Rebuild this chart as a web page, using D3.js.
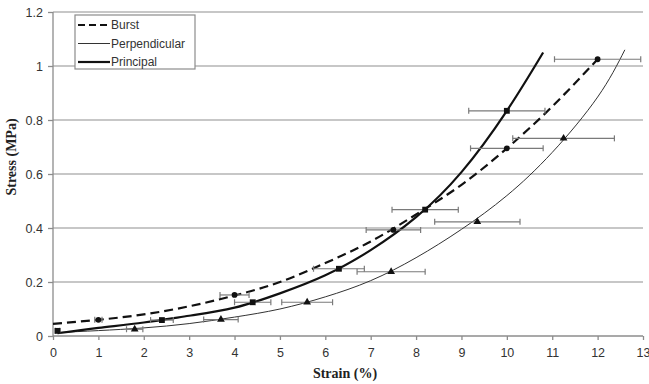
<!DOCTYPE html>
<html>
<head>
<meta charset="utf-8" />
<style>
body {
	margin: 0;
	background: white;
	font-family: "Liberation Sans", Arial, Helvetica;
}
svg {
	display: block;
}
.grid line {
	stroke: #b4b4b4;
	stroke-width: 1.3;
}
.axis path, .axis line {
	stroke: #8c8c8c;
	stroke-width: 1.3;
}
.axis text {
	font-size: 12.5px;
	fill: #333;
	font-family: "Liberation Sans", Arial;
}
.axis-title {
	font-family: "Liberation Serif", "Times New Roman", serif;
	font-weight: bold;
	font-size: 14px;
	fill: #222;
}
.err {
	stroke: #7a7a7a;
	stroke-width: 1.2;
}
.legend-box {
	fill: white;
	stroke: #8c8c8c;
	stroke-width: 1.2;
}
.legend-label {
	font-size: 12px;
	fill: #333;
}
</style>
</head>
<body>
<script src="https://cdn.jsdelivr.net/npm/d3@7"></script>
<script>
// tick labels
var xTicks = [0, 1, 2, 3, 4, 5, 6, 7, 8, 9, 10, 11, 12, 13];
var yTicks = [0, 0.2, 0.4, 0.6, 0.8, 1, 1.2];

// measured points (strain %, stress MPa, horizontal error)
var burstX = [1, 4, 7.5, 10, 12];
var burstY = [0.06, 0.152, 0.393, 0.695, 1.025];
var burstErr = [0.08, 0.32, 0.6, 0.8, 0.95];

var principalX = [0.1, 2.4, 4.4, 6.3, 8.2, 10];
var principalY = [0.019, 0.059, 0.125, 0.249, 0.468, 0.834];
var principalErr = [0.05, 0.25, 0.4, 0.56, 0.73, 0.84];

var perpX = [1.8, 3.7, 5.6, 7.45, 9.35, 11.25];
var perpY = [0.025, 0.061, 0.125, 0.238, 0.423, 0.732];
var perpErr = [0.18, 0.38, 0.56, 0.75, 0.94, 1.12];

// trend curves
var burstCurveX = [0, 1, 2, 3, 4, 5, 6, 7, 8, 9, 10, 11, 12];
var burstCurveY = [0.045, 0.06, 0.08, 0.11, 0.15, 0.2, 0.27, 0.35, 0.45, 0.56, 0.695, 0.85, 1.025];

var principalCurveX = [0.1, 1, 2, 3, 4, 5, 6, 7, 8, 9, 10, 10.8];
var principalCurveY = [0.01, 0.03, 0.05, 0.075, 0.105, 0.158, 0.225, 0.318, 0.44, 0.607, 0.834, 1.05];

var perpCurveX = [0.1, 1, 2, 3, 4, 5, 6, 7, 8, 9, 10, 11, 12, 12.6];
var perpCurveY = [0.013, 0.02, 0.03, 0.046, 0.07, 0.1, 0.145, 0.205, 0.29, 0.395, 0.52, 0.68, 0.885, 1.06];

var width = 649,
    height = 384;

var x = d3.scaleLinear().domain([0, 13]).range([53, 643]);
var y = d3.scaleLinear().domain([0, 1.2]).range([336, 12]);

var svg = d3.select("body").append("svg")
	.attr("width", width)
	.attr("height", height);

// horizontal gridlines
svg.append("g")
	.attr("class", "grid")
	.selectAll("line")
	.data(yTicks.slice(1))
	.enter().append("line")
		.attr("x1", x(0))
		.attr("x2", x(13))
		.attr("y1", function(d) { return y(d); })
		.attr("y2", function(d) { return y(d); });

var xAxis = svg.append("g")
	.attr("class", "axis")
	.attr("transform", "translate(0," + y(0) + ")")
	.call(d3.axisBottom(x).tickValues(xTicks).tickSize(4).tickPadding(8).tickFormat(d3.format("d")));
xAxis.select(".domain").attr("d", "M" + x(0) + ",0H" + x(13));

var yAxis = svg.append("g")
	.attr("class", "axis")
	.attr("transform", "translate(" + x(0) + ",0)")
	.call(d3.axisLeft(y).tickValues(yTicks).tickSize(5).tickPadding(5).tickFormat(function(d) { return String(+d.toFixed(1)); }));
yAxis.select(".domain").attr("d", "M0," + y(0) + "V" + y(1.2));

svg.append("text")
	.attr("class", "axis-title")
	.attr("x", 345)
	.attr("y", 378)
	.attr("text-anchor", "middle")
	.text("Strain (%)");

svg.append("text")
	.attr("class", "axis-title")
	.attr("transform", "translate(16,157) rotate(-90)")
	.attr("text-anchor", "middle")
	.text("Stress (MPa)");

var line = d3.line()
	.x(function(d) { return x(d[0]); })
	.y(function(d) { return y(d[1]); })
	.curve(d3.curveNatural);

svg.append("path")
	.datum(d3.zip(perpCurveX, perpCurveY))
	.attr("d", line)
	.attr("fill", "none")
	.attr("stroke", "#333")
	.attr("stroke-width", 1);

svg.append("path")
	.datum(d3.zip(burstCurveX, burstCurveY))
	.attr("d", line)
	.attr("fill", "none")
	.attr("stroke", "#111")
	.attr("stroke-width", 2.2)
	.attr("stroke-dasharray", "9,5");

svg.append("path")
	.datum(d3.zip(principalCurveX, principalCurveY))
	.attr("d", line)
	.attr("fill", "none")
	.attr("stroke", "#111")
	.attr("stroke-width", 2.2);

function errorBars(xs, ys, errs) {
	var g = svg.append("g").attr("class", "err");
	for (var i = 0; i < xs.length; i++) {
		var yy = y(ys[i]);
		g.append("line")
			.attr("x1", x(xs[i] - errs[i])).attr("x2", x(xs[i] + errs[i]))
			.attr("y1", yy).attr("y2", yy);
		[xs[i] - errs[i], xs[i] + errs[i]].forEach(function(e) {
			g.append("line")
				.attr("x1", x(e)).attr("x2", x(e))
				.attr("y1", yy - 3).attr("y2", yy + 3);
		});
	}
}

errorBars(perpX, perpY, perpErr);
errorBars(burstX, burstY, burstErr);
errorBars(principalX, principalY, principalErr);

function markers(xs, ys, type, size) {
	svg.append("g")
		.selectAll("path")
		.data(d3.zip(xs, ys))
		.enter().append("path")
			.attr("d", d3.symbol(type, size))
			.attr("transform", function(d) { return "translate(" + x(d[0]) + "," + y(d[1]) + ")"; })
			.attr("fill", "#111");
}

markers(perpX, perpY, d3.symbolTriangle, 26);
markers(burstX, burstY, d3.symbolCircle, 26);
markers(principalX, principalY, d3.symbolSquare, 34);

// legend
var legendNames = ["Burst", "Perpendicular", "Principal"];
var legendWidths = [2.2, 1, 2.2];
var legendDash = ["7,4", null, null];

var legend = svg.append("g");
legend.append("rect")
	.attr("class", "legend-box")
	.attr("x", 75)
	.attr("y", 15)
	.attr("width", 120)
	.attr("height", 54);

legendNames.forEach(function(name, i) {
	var ly = 25 + i * 18.5;
	legend.append("line")
		.attr("x1", 78).attr("x2", 110)
		.attr("y1", ly).attr("y2", ly)
		.attr("stroke", i === 1 ? "#333" : "#111")
		.attr("stroke-width", legendWidths[i])
		.attr("stroke-dasharray", legendDash[i]);
	legend.append("text")
		.attr("class", "legend-label")
		.attr("x", 111)
		.attr("y", ly + 4)
		.text(name);
});
</script>
</body>
</html>
